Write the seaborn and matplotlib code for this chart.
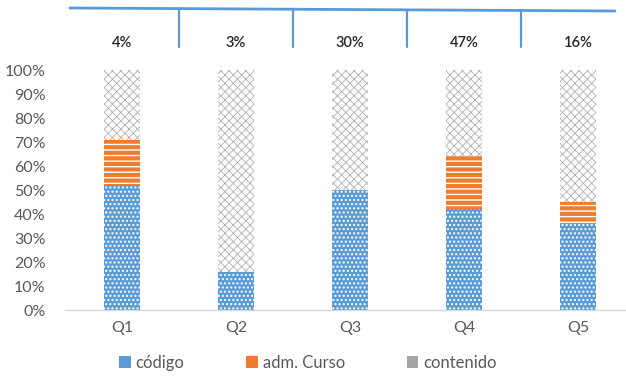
import matplotlib
matplotlib.use("Agg")
import matplotlib.pyplot as plt
from matplotlib.patches import Patch
from matplotlib.lines import Line2D
import matplotlib.transforms as mtransforms
import seaborn as sns

# Stacked shares per question (percent)
questions = ["Q1", "Q2", "Q3", "Q4", "Q5"]
codigo = [52, 16, 50, 42, 36]
adm_curso = [19, 0, 0, 22, 9]
contenido = [29, 84, 50, 36, 55]
# Share of responses per question shown in the header row
share = ["4%", "3%", "30%", "47%", "16%"]
series_names = ["código", "adm. Curso", "contenido"]

BLUE = "#5B9BD5"
ORANGE = "#ED7D31"
GRAY = "#A5A5A5"
TEXT = "#595959"

sns.set_theme(style="white")
plt.rcParams["font.family"] = ["Lato", "DejaVu Sans"]

fig = plt.figure(figsize=(6.26, 3.80), dpi=100)
ax = fig.add_axes([65 / 626, 70 / 380, 570 / 626, 240 / 380])

bar_w = 0.31
bottoms_adm = codigo
bottoms_cont = [a + b for a, b in zip(codigo, adm_curso)]

layers = [
    (codigo, [0] * 5, BLUE, "white", "....", 1.0),
    (adm_curso, bottoms_adm, "white", ORANGE, "---", 3.0),
    (contenido, bottoms_cont, "white", "#B0B0B0", "xxxx", 0.6),
]
for vals, bottom, face, hatch_col, hatch, hlw in layers:
    with plt.rc_context({"hatch.linewidth": hlw}):
        sns.barplot(x=questions, y=vals, bottom=bottom, ax=ax, width=bar_w,
                    color=face, saturation=1, edgecolor=hatch_col,
                    linewidth=0, hatch=hatch)
    for p in ax.patches[-5:]:
        if hasattr(p, "set_hatch_linewidth"):
            p.set_hatch_linewidth(hlw)

ax.set_xlim(-0.5, 4.5)
ax.set_ylim(0, 100)
ax.set_yticks(range(0, 101, 10))
ax.set_yticklabels([f"{v}%" for v in range(0, 101, 10)])
ax.set_xlabel("")
ax.set_ylabel("")
ax.tick_params(axis="both", colors=TEXT, labelsize=11.5, length=0)
ax.tick_params(axis="y", pad=14)
ax.tick_params(axis="x", pad=8)
for s in ["top", "right", "left"]:
    ax.spines[s].set_visible(False)
ax.spines["bottom"].set_color("#D9D9D9")
ax.spines["bottom"].set_linewidth(1)

# Header row: share per question with separators
trans = mtransforms.blended_transform_factory(ax.transData, fig.transFigure)
fig.add_artist(Line2D([70 / 626, 615 / 626], [1 - 8 / 380, 1 - 11 / 380],
                      transform=fig.transFigure, color=BLUE, lw=2))
for xi in [0.5, 1.5, 2.5, 3.5]:
    fig.add_artist(Line2D([xi, xi], [1 - 10 / 380, 1 - 47 / 380],
                          transform=trans, color=BLUE, lw=1.6))
for i, lab in enumerate(share):
    fig.text(i, 1 - 43 / 380, lab, transform=trans, ha="center", va="center",
             fontsize=10.5, color="#262626", fontweight="semibold")

handles = [Patch(facecolor=c, edgecolor="none") for c in (BLUE, ORANGE, GRAY)]
fig.legend(handles, series_names, loc="center", bbox_to_anchor=(308 / 626, 1 - 363 / 380),
           ncol=3, frameon=False, fontsize=12, labelcolor=TEXT, handlelength=0.7,
           handleheight=0.7, handletextpad=0.3, columnspacing=3.7)

fig.savefig("out.png", dpi=100)
